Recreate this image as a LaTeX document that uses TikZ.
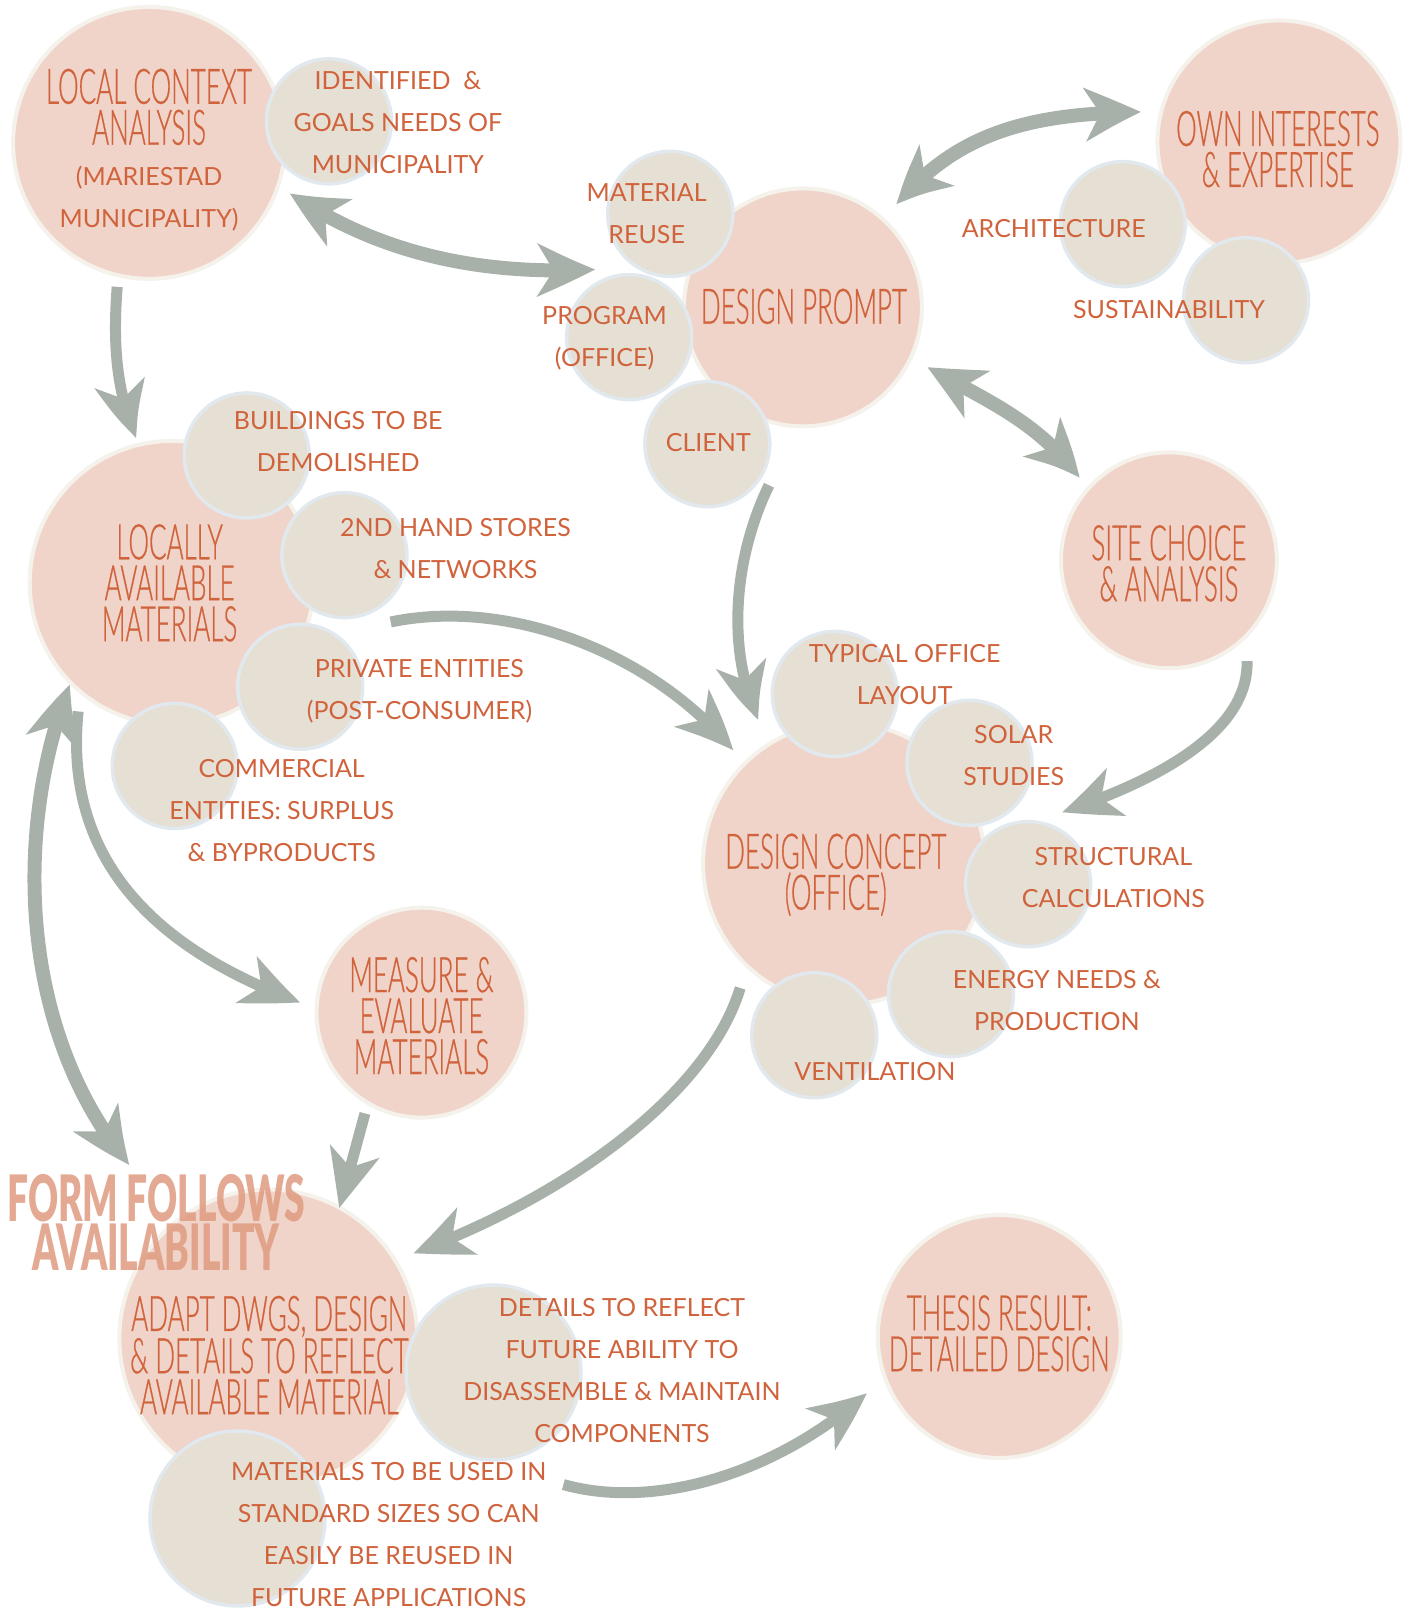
\documentclass[tikz,border=0pt]{standalone}
\usepackage{fontspec}
\setmainfont{Lato}
\newfontfamily\ttlfont[FakeStretch=0.53,FakeBold=0.5]{Lato Light}
\newfontfamily\ffafont[FakeStretch=0.58]{Lato Black}
\usetikzlibrary{arrows.meta,bending}
\definecolor{txt}{HTML}{D0633C}
\definecolor{bigfill}{HTML}{F0D4C9}
\definecolor{bigline}{HTML}{F5F2EC}
\definecolor{smfill}{HTML}{E6DFD4}
\definecolor{smline}{HTML}{E1E8EE}
\definecolor{arrc}{HTML}{A8B1A9}
\definecolor{ffa}{HTML}{E09B81}
\begin{document}
\begin{tikzpicture}[x=1.0284pt,y=-1.0284pt,
  bigc/.style={circle,draw=bigline,fill=bigfill,line width=4pt,inner sep=0pt},
  smc/.style={circle,draw=smline,fill=smfill,line width=3.5pt,inner sep=0pt,minimum size=125pt},
  lgc/.style={smc,minimum size=175pt},
  ttl/.style={text=txt,font=\ttlfont\fontsize{49}{41}\selectfont,align=center,inner sep=0pt},
  lbl/.style={text=txt,font=\fontsize{25}{42}\selectfont,align=center,inner sep=0pt},
  arr/.style={draw=arrc,line width=11pt,-{Stealth[length=58pt,width=50pt,inset=16pt,bend]}},
  dbl/.style={draw=arrc,line width=14pt,{Stealth[length=58pt,width=52pt,inset=16pt,bend]}-{Stealth[length=58pt,width=52pt,inset=16pt,bend]}}]
\fill[white] (0,0) rectangle (1374,1568);
\useasboundingbox (0,0) rectangle (1374,1568);

% big circles
\node[bigc,minimum size=272pt] (lca) at (145,139) {};
\node[bigc,minimum size=243pt] (own) at (1244,138) {};
\node[bigc,minimum size=238pt] (dp) at (781,299) {};
\node[bigc,minimum size=284pt] (lam) at (167,567) {};
\node[bigc,minimum size=216pt] (site) at (1137,545) {};
\node[bigc,minimum size=282pt] (dc) at (821,840) {};
\node[bigc,minimum size=210pt] (mem) at (410,985) {};
\node[bigc,minimum size=298pt] (adapt) at (261,1302) {};
\node[bigc,minimum size=243pt] (thesis) at (972,1300) {};

% small circles
\node[smc] (cid) at (320,118) {};
\node[smc] (cmat) at (652,208) {};
\node[smc] (cprog) at (612,328) {};
\node[smc] (ccli) at (688,432) {};
\node[smc] (carch) at (1092,218) {};
\node[smc] (csus) at (1212,292) {};
\node[smc] (cbld) at (240,443) {};
\node[smc] (c2nd) at (335,540) {};
\node[smc] (cpriv) at (292,668) {};
\node[smc] (ccom) at (170,745) {};
\node[smc] (ctyp) at (812,675) {};
\node[smc] (csol) at (943,742) {};
\node[smc] (cstr) at (1000,860) {};
\node[smc] (cen) at (925,967) {};
\node[smc] (cven) at (792,1007) {};
\node[lgc] (cdet) at (480,1335) {};
\node[lgc] (cmtu) at (231,1477) {};

% arrow end points
\coordinate (a1s) at (282,188); \coordinate (a1e) at (579,262);
\coordinate (a2s) at (872,199); \coordinate (a2e) at (1110,109);
\coordinate (a3s) at (114,279); \coordinate (a3e) at (133,426);
\coordinate (a4s) at (902,357); \coordinate (a4e) at (1050,465);
\coordinate (a5s) at (748,472); \coordinate (a5e) at (738,700);
\coordinate (a6s) at (380,605); \coordinate (a6e) at (713,730);
\coordinate (a7s) at (1213,643); \coordinate (a7e) at (1033,790);
\coordinate (a8s) at (68,666); \coordinate (a8e) at (126,1133);
\coordinate (a9s) at (76,692); \coordinate (a9e) at (292,975);
\coordinate (a10s) at (355,1083); \coordinate (a10e) at (330,1175);
\coordinate (a11s) at (720,961); \coordinate (a11e) at (402,1219);
\coordinate (a12s) at (548,1444); \coordinate (a12e) at (843,1355);

% arrows
\draw[dbl] (a1s) .. controls (370,248) and (470,268) .. (a1e);
\draw[dbl] (a2s) .. controls (930,130) and (1000,110) .. (a2e);
\draw[arr] (a3s) .. controls (110,330) and (112,380) .. (a3e);
\draw[dbl] (a4s) .. controls (960,390) and (1010,410) .. (a4e);
\draw[arr] (a5s) .. controls (715,540) and (705,630) .. (a5e);
\draw[arr] (a6s) .. controls (500,580) and (640,640) .. (a6e);
\draw[arr] (a7s) .. controls (1215,710) and (1130,758) .. (a7e);
\draw[dbl] (a8s) .. controls (15,800) and (15,1000) .. (a8e);
\draw[arr] (a9s) .. controls (60,850) and (170,930) .. (a9e);
\draw[arr] (a10s) -- (a10e);
\draw[arr] (a11s) .. controls (690,1060) and (560,1160) .. (a11e);
\draw[arr] (a12s) .. controls (640,1470) and (760,1430) .. (a12e);

% titles
\node[ttl] (tlca) at (145,104) {LOCAL CONTEXT\\ANALYSIS};
\node[lbl] (tlca2) at (145,193.5) {(MARIESTAD\\MUNICIPALITY)};
\node[ttl] (town) at (1243,145) {OWN INTERESTS\\\& EXPERTISE};
\node[ttl] (tdp) at (782,298) {DESIGN PROMPT};
\node[ttl] (tlam) at (165,567) {LOCALLY\\AVAILABLE\\MATERIALS};
\node[ttl] (tsite) at (1137,548) {SITE CHOICE\\\& ANALYSIS};
\node[ttl] (tdc) at (813,851) {DESIGN CONCEPT\\(OFFICE)};
\node[ttl] (tmem) at (410,988) {MEASURE \&\\EVALUATE\\MATERIALS};
\node[ttl] (tadapt) at (262,1318) {ADAPT DWGS, DESIGN\\\& DETAILS TO REFLECT\\AVAILABLE MATERIAL};
\node[ttl] (tthesis) at (972,1297) {THESIS RESULT:\\DETAILED DESIGN};

% labels
\node[lbl] (lid) at (387,119) {IDENTIFIED\ \ \&\\GOALS NEEDS OF\\MUNICIPALITY};
\node[lbl] (lmat) at (629,208) {MATERIAL\\REUSE};
\node[lbl] (lprog) at (588,329) {PROGRAM\\(OFFICE)};
\node[lbl] (lcli) at (689,430) {CLIENT};
\node[lbl] (larch) at (1025,222) {ARCHITECTURE};
\node[lbl] (lsus) at (1137,301) {SUSTAINABILITY};
\node[lbl] (lbld) at (329,429.5) {BUILDINGS TO BE\\DEMOLISHED};
\node[lbl] (l2nd) at (443,534) {2ND HAND STORES\\\& NETWORKS};
\node[lbl] (lpriv) at (408,672) {PRIVATE ENTITIES\\(POST-CONSUMER)};
\node[lbl] (lcom) at (274,788.5) {COMMERCIAL\\ENTITIES: SURPLUS\\\& BYPRODUCTS};
\node[lbl] (ltyp) at (880,656) {TYPICAL OFFICE\\LAYOUT};
\node[lbl] (lsol) at (986,734.5) {SOLAR\\STUDIES};
\node[lbl] (lstr) at (1083,854) {STRUCTURAL\\CALCULATIONS};
\node[lbl] (len) at (1028,973) {ENERGY NEEDS \&\\PRODUCTION};
\node[lbl] (lven) at (851,1042) {VENTILATION};
\node[lbl] (ldet) at (605,1333) {DETAILS TO REFLECT\\FUTURE ABILITY TO\\DISASSEMBLE \& MAINTAIN\\COMPONENTS};
\node[lbl] (lmtu) at (378,1492.5) {MATERIALS TO BE USED IN\\STANDARD SIZES SO CAN\\EASILY BE REUSED IN\\FUTURE APPLICATIONS};

% slogan
\node[text=ffa,opacity=0.85,font=\ffafont\fontsize{64}{49}\selectfont,align=center,inner sep=0pt] (ffa) at (152,1189) {FORM FOLLOWS\\AVAILABILITY};
\end{tikzpicture}
\end{document}
